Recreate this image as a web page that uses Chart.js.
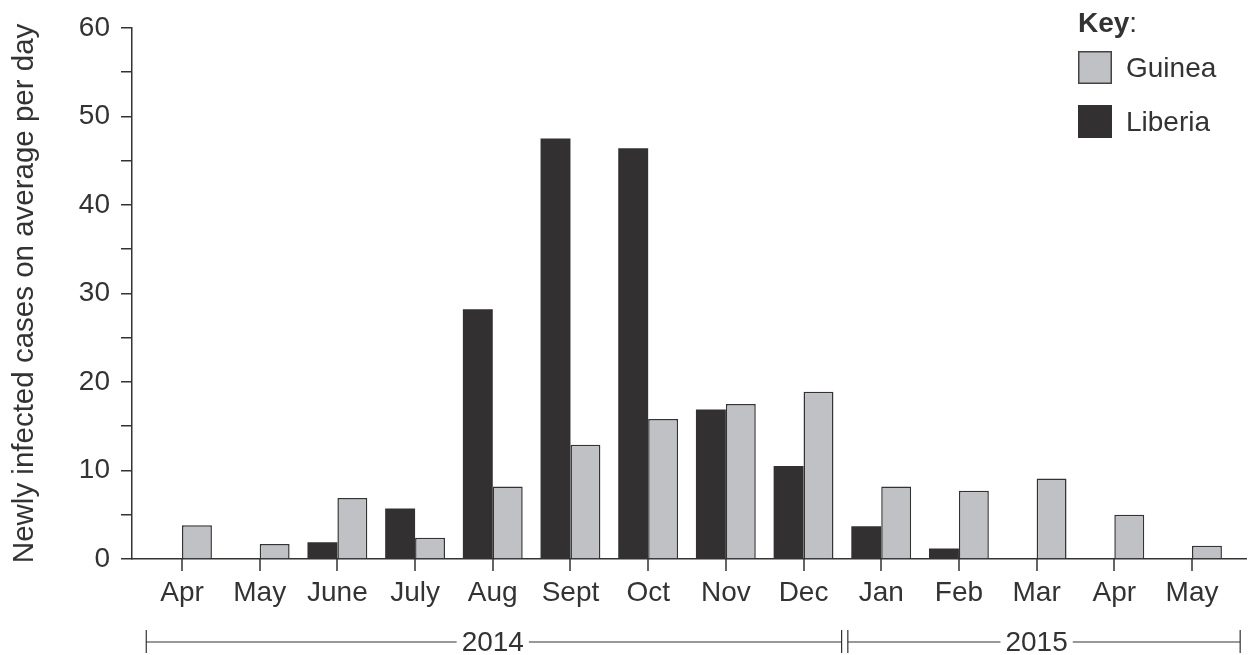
<!DOCTYPE html>
<html>
<head>
<meta charset="utf-8">
<script src="https://cdn.jsdelivr.net/npm/chart.js@4.4.1/dist/chart.umd.min.js"></script>
<style>
  html, body { margin: 0; padding: 0; background: #fff; }
  #wrap { width: 1250px; height: 655px; }
</style>
</head>
<body>
<div id="wrap"><canvas id="chart" width="1250" height="655"></canvas></div>
<script>
// data
const months = ["Apr", "May", "June", "July", "Aug", "Sept", "Oct", "Nov", "Dec", "Jan", "Feb", "Mar", "Apr", "May"];
const guinea = [3.8, 1.7, 6.9, 2.4, 8.2, 12.9, 15.8, 17.5, 18.9, 8.2, 7.7, 9.1, 5.0, 1.5];
const liberia = [0, 0, 1.9, 5.7, 28.2, 47.5, 46.4, 16.9, 10.5, 3.7, 1.2, 0, 0, 0];
const yLabels = [0, 10, 20, 30, 40, 50, 60];

// year brackets under the month axis (in category units)
const years = ["2014", "2015"];
const yearFrom = [-0.46, 8.57];
const yearTo = [8.49, 13.62];
const yearMid = [4, 11];

const INK = "#333";
const FONT = "'Liberation Sans', Arial, sans-serif";
const TXT = 28;

const toPoints = arr => arr.map((v, i) => ({ x: i, y: v }));

// ---- month tick marks + year brackets ----
const axisPlugin = {
  id: "years",
  afterDraw(chart) {
    const { ctx, scales: { x }, chartArea } = chart;
    const base = chartArea.bottom;
    ctx.save();
    ctx.strokeStyle = INK;
    ctx.fillStyle = INK;

    // tick marks under each month
    months.forEach((m, i) => {
      const px = Math.round(x.getPixelForValue(i));
      ctx.fillRect(px - 0.75, base, 1.5, 12);
    });

    const y = base + 83;
    ctx.lineWidth = 1.2;
    ctx.font = TXT + "px " + FONT;
    ctx.textAlign = "center";
    ctx.textBaseline = "middle";
    years.forEach((label, i) => {
      const x0 = x.getPixelForValue(yearFrom[i]);
      const x1 = x.getPixelForValue(yearTo[i]);
      const xm = x.getPixelForValue(yearMid[i]);
      const half = ctx.measureText(label).width / 2 + 5;
      ctx.beginPath();
      ctx.moveTo(x0, y); ctx.lineTo(xm - half, y);
      ctx.moveTo(xm + half, y); ctx.lineTo(x1, y);
      ctx.moveTo(x0, y - 12); ctx.lineTo(x0, y + 11);
      ctx.moveTo(x1, y - 12); ctx.lineTo(x1, y + 11);
      ctx.stroke();
      ctx.fillText(label, xm, y + 1);
    });
    ctx.restore();
  }
};

// ---- "Key:" legend, top right ----
const keyPlugin = {
  id: "key",
  afterDraw(chart) {
    const { ctx } = chart;
    const left = 1078;
    ctx.save();
    ctx.fillStyle = INK;
    ctx.textBaseline = "alphabetic";
    ctx.textAlign = "left";
    ctx.font = "bold " + TXT + "px " + FONT;
    ctx.fillText("Key", left, 32);
    const w = ctx.measureText("Key").width;
    ctx.font = TXT + "px " + FONT;
    ctx.fillText(":", left + w, 32);

    // Guinea first, then Liberia, as in the picture
    const order = [1, 0];
    order.forEach((di, row) => {
      const ds = chart.data.datasets[di];
      const top = 51 + row * 54;
      ctx.fillStyle = ds.backgroundColor;
      ctx.fillRect(left, top, 34, 33);
      if (ds.legendBorder) {
        ctx.strokeStyle = ds.legendBorder;
        ctx.lineWidth = 1.5;
        ctx.strokeRect(left + 0.75, top + 0.75, 32.5, 31.5);
      }
      ctx.fillStyle = INK;
      ctx.textBaseline = "middle";
      ctx.fillText(ds.label, 1126, top + 18);
    });
    ctx.restore();
  }
};

new Chart(document.getElementById("chart"), {
  type: "bar",
  data: {
    datasets: [
      {
        label: "Liberia",
        data: toPoints(liberia),
        backgroundColor: "#323031",
        borderWidth: 0
      },
      {
        label: "Guinea",
        data: toPoints(guinea),
        backgroundColor: "#c0c1c4",
        borderColor: INK,
        borderWidth: 1.5,
        legendBorder: "#444"
      }
    ]
  },
  options: {
    responsive: false,
    animation: false,
    devicePixelRatio: 1,
    categoryPercentage: 0.77,
    barPercentage: 1,
    layout: { padding: { top: 24, right: 4, left: 0, bottom: 0 } },
    plugins: {
      legend: { display: false },
      tooltip: { enabled: false }
    },
    scales: {
      x: {
        type: "linear",
        min: -0.6436,
        max: 13.695,
        offset: false,
        border: { color: INK, width: 1.5 },
        // month tick marks come from axisPlugin; tickLength keeps the label gap
        grid: { display: false, drawTicks: true, tickLength: 12 },
        ticks: {
          stepSize: 1,
          includeBounds: false,
          autoSkip: false,
          maxRotation: 0,
          padding: 5,
          color: INK,
          font: { family: FONT, size: TXT },
          callback: v => (Number.isInteger(v) && months[v]) ? months[v] : ""
        },
        afterFit: s => { s.height = 96; }
      },
      y: {
        min: 0,
        max: 60,
        border: { color: INK, width: 1.5 },
        grid: { drawOnChartArea: false, color: INK, lineWidth: 1.5, tickLength: 11 },
        ticks: {
          stepSize: 5,
          padding: 11,
          color: INK,
          font: { family: FONT, size: TXT },
          callback: v => yLabels.includes(v) ? v : ""
        },
        title: {
          display: true,
          text: "Newly infected cases on average per day",
          color: INK,
          font: { family: FONT, size: 29.5 },
          padding: { top: 7, bottom: 0 }
        },
        afterFit: s => { s.width = 132; }
      }
    }
  },
  plugins: [axisPlugin, keyPlugin]
});
</script>
</body>
</html>
